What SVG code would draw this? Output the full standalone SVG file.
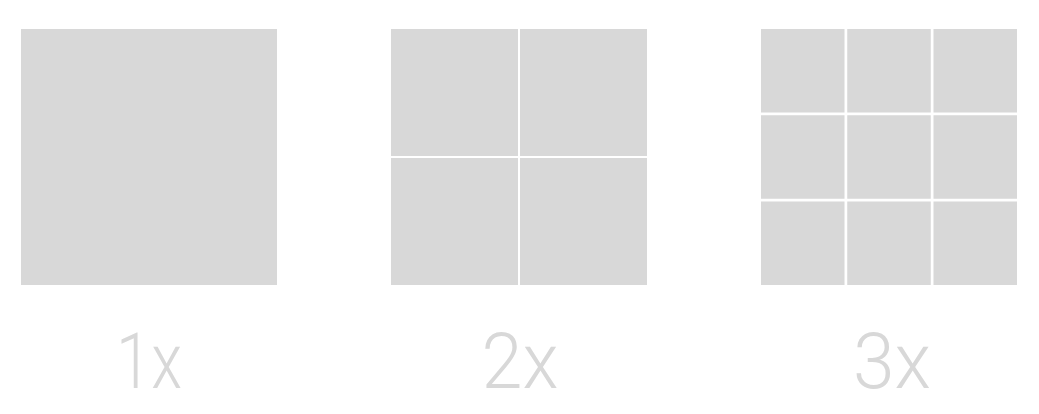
<svg xmlns="http://www.w3.org/2000/svg" width="1039" height="414" viewBox="0 0 1039 414">
<style>
.cell{fill:#d8d8d8}
.lbl{fill:#d8d8d8;font-family:Roboto,"Liberation Sans",sans-serif;font-weight:300;font-size:78px;text-anchor:middle}
</style>
<rect width="1039" height="414" fill="#ffffff"/>
<g id="node-1x">
<rect class="cell" x="21" y="29" width="256" height="256"/>
<text class="lbl" x="149" y="388" textLength="66" lengthAdjust="spacingAndGlyphs">1x</text>
</g>
<g id="node-2x">
<rect class="cell" x="391" y="29" width="127" height="127"/>
<rect class="cell" x="520" y="29" width="127" height="127"/>
<rect class="cell" x="391" y="158" width="127" height="127"/>
<rect class="cell" x="520" y="158" width="127" height="127"/>
<text class="lbl" x="520" y="388" textLength="77" lengthAdjust="spacingAndGlyphs">2x</text>
</g>
<g id="node-3x">
<rect class="cell" x="761" y="29" width="83.5" height="83.5"/>
<rect class="cell" x="847.25" y="29" width="83.5" height="83.5"/>
<rect class="cell" x="933.5" y="29" width="83.5" height="83.5"/>
<rect class="cell" x="761" y="115.25" width="83.5" height="83.5"/>
<rect class="cell" x="847.25" y="115.25" width="83.5" height="83.5"/>
<rect class="cell" x="933.5" y="115.25" width="83.5" height="83.5"/>
<rect class="cell" x="761" y="201.5" width="83.5" height="83.5"/>
<rect class="cell" x="847.25" y="201.5" width="83.5" height="83.5"/>
<rect class="cell" x="933.5" y="201.5" width="83.5" height="83.5"/>
<text class="lbl" x="892" y="388" textLength="78" lengthAdjust="spacingAndGlyphs">3x</text>
</g>
<g id="connectors"/>
</svg>
